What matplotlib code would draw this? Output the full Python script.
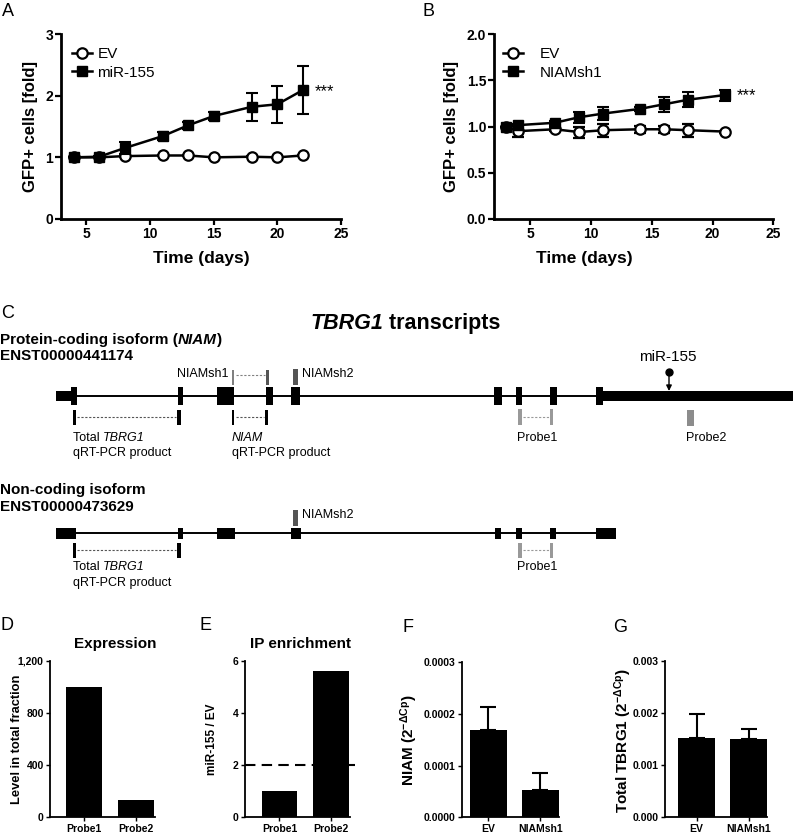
import matplotlib
matplotlib.use('Agg')
import matplotlib.pyplot as plt
from matplotlib import font_manager
from matplotlib.patches import Rectangle
from matplotlib.lines import Line2D

names = {f.name for f in font_manager.fontManager.ttflist}
BASE = 'Liberation Sans' if 'Liberation Sans' in names else 'DejaVu Sans'
plt.rcParams['font.family'] = [BASE, 'DejaVu Sans']
plt.rcParams['mathtext.fontset'] = 'custom'
plt.rcParams['mathtext.rm'] = BASE
plt.rcParams['mathtext.it'] = BASE + ':italic'
plt.rcParams['mathtext.bf'] = BASE + ':bold'

# ---------------- data ----------------
# Panel A
days_a = [4, 6, 8, 11, 13, 15, 18, 20, 22]
ev_a = [1.0, 1.0, 1.02, 1.03, 1.03, 1.0, 1.01, 1.0, 1.03]
ev_a_err = [0, 0, 0.01, 0.01, 0.01, 0.01, 0.01, 0.01, 0.01]
mir_a = [1.0, 1.01, 1.15, 1.345, 1.52, 1.67, 1.82, 1.86, 2.09]
mir_a_err = [0, 0.01, 0.10, 0.07, 0.06, 0.06, 0.23, 0.30, 0.39]
# Panel B
days_b = [3, 4, 7, 9, 11, 14, 16, 18, 21]
ev_b = [1.0, 0.95, 0.97, 0.94, 0.96, 0.97, 0.97, 0.96, 0.945]
ev_b_err = [0, 0.06, 0.02, 0.06, 0.07, 0.04, 0.04, 0.07, 0.01]
sh_b = [1.0, 1.015, 1.04, 1.10, 1.14, 1.19, 1.24, 1.29, 1.34]
sh_b_err = [0, 0.01, 0.02, 0.06, 0.07, 0.02, 0.08, 0.08, 0.06]
# Panel D/E
probes = ['Probe1', 'Probe2']
expression = [1000, 130]
ip_enrichment = [1.0, 5.6]
ip_threshold = 2
# Panel F/G
groups = ['EV', 'NIAMsh1']
niam = [0.000169, 0.0000528]
niam_err = [0.000044, 0.000032]
total_tbrg1 = [0.00152, 0.00150]
total_tbrg1_err = [0.00046, 0.00020]

# Panel C (diagram units along transcript)
coding_exons = [(70.7, 76.7), (177.7, 183.3), (216.7, 234.3), (266, 273.3), (291, 300),
                (494.3, 501.7), (515.7, 522.3), (550, 557.3), (595.7, 603.3)]
coding_utr5 = (56, 71)
coding_utr3 = (603, 793)
noncoding_exons = [(56, 76), (177.5, 183), (216.5, 235), (291, 301),
                   (494.5, 501), (516, 522), (550, 556), (596, 616)]
mir155_site = 669
probe2_site = (686.7, 694)

W, H = 793, 833
fig = plt.figure(figsize=(W / 100, H / 100), dpi=100)


def pax(l, r, t, b):
    return fig.add_axes([l / W, 1 - b / H, (r - l) / W, (b - t) / H])


def ftext(x, y, s, **kw):
    kw.setdefault('ha', 'left')
    kw.setdefault('va', 'center')
    return fig.text(x / W, 1 - y / H, s, **kw)


# overlay axes for diagram
axc = fig.add_axes([0, 0, 1, 1])
axc.set_xlim(0, W)
axc.set_ylim(H, 0)
axc.axis('off')


def rich(x, y, parts, size, weight='normal'):
    """parts: list of (text, italic?) drawn one after another on one line."""
    prev = None
    for s, it in parts:
        st = 'italic' if it else 'normal'
        if prev is None:
            prev = axc.text(x, y, s, ha='left', va='center', fontsize=size, fontweight=weight, fontstyle=st)
        else:
            prev = axc.annotate(s, xy=(1, 0.5), xycoords=prev, ha='left', va='center', fontsize=size,
                                fontweight=weight, fontstyle=st)
    return prev


def style(ax, lw=2.0, tl=4, ls=10):
    for s in ['top', 'right']:
        ax.spines[s].set_visible(False)
    for s in ['left', 'bottom']:
        ax.spines[s].set_linewidth(lw)
    ax.tick_params(direction='out', length=tl, width=lw * 0.8, labelsize=ls, pad=1.5)
    for lab in ax.get_xticklabels() + ax.get_yticklabels():
        lab.set_fontweight('bold')


# ---------------- Panel A ----------------
axA = pax(61, 341, 34, 219)
ekw = dict(color='k', lw=1.8, capsize=4, elinewidth=1.5, capthick=1.5, clip_on=False)
axA.errorbar(days_a, ev_a, yerr=ev_a_err, fmt='-o', mfc='white', mec='k', ms=7.5, mew=1.6, zorder=3, **ekw)
axA.errorbar(days_a, mir_a, yerr=mir_a_err, fmt='-s', mfc='k', mec='k', ms=6.5, zorder=4, **ekw)
axA.set_xlim(3, 25)
axA.set_ylim(0, 3)
axA.set_xticks([5, 10, 15, 20, 25])
axA.set_yticks([0, 1, 2, 3])
style(axA)
hA = [Line2D([], [], color='k', lw=1.8, marker='o', mfc='white', mec='k', ms=7.5, mew=1.6),
      Line2D([], [], color='k', lw=1.8, marker='s', mfc='k', ms=6.5)]
axA.legend(hA, ['EV', 'miR-155'], loc='upper left', bbox_to_anchor=(0.04, 0.93), frameon=False,
           handlelength=1.3, handletextpad=0.35, labelspacing=0.3, fontsize=11, borderaxespad=0, borderpad=0)
ftext(315, 92, '***', fontsize=12)

# ---------------- Panel B ----------------
axB = pax(494, 773.3, 34, 219)
axB.errorbar(days_b, ev_b, yerr=ev_b_err, fmt='-o', mfc='white', mec='k', ms=7.5, mew=1.6, zorder=3, **ekw)
axB.errorbar(days_b, sh_b, yerr=sh_b_err, fmt='-s', mfc='k', mec='k', ms=6.5, zorder=4, **ekw)
axB.set_xlim(2, 25)
axB.set_ylim(0, 2)
axB.set_xticks([5, 10, 15, 20, 25])
axB.set_yticks([0, 0.5, 1.0, 1.5, 2.0])
axB.set_yticklabels(['0.0', '0.5', '1.0', '1.5', '2.0'])
style(axB)
axB.legend(hA, ['EV', 'NIAMsh1'], loc='upper left', bbox_to_anchor=(0.032, 0.93), frameon=False,
           handlelength=1.3, handletextpad=1.1, labelspacing=0.3, fontsize=11, borderaxespad=0, borderpad=0)
ftext(737, 96, '***', fontsize=12)

for x in (30.5, 451):
    ftext(x, 126, 'GFP+ cells [fold]', rotation=90, ha='center', fontsize=12, fontweight='bold')
ftext(201.5, 258, 'Time (days)', ha='center', fontsize=12.5, fontweight='bold')
ftext(584, 258, 'Time (days)', ha='center', fontsize=12.5, fontweight='bold')

# ---------------- Panel letters ----------------
for lx, ly, L in [(2, 11, 'A'), (422, 11, 'B'), (1, 314, 'C'), (0, 625, 'D'), (199, 625, 'E'),
                  (402, 627, 'F'), (613, 627, 'G')]:
    ftext(lx, ly, L, fontsize=13)

# ---------------- Panel C ----------------
rich(310, 323, [('TBRG1', True), (' transcripts', False)], 15.5, 'bold')
rich(0, 340, [('Protein-coding isoform (', False), ('NIAM', True), (')', False)], 11, 'bold')
axc.text(0, 356, 'ENST00000441174', ha='left', va='center', fontsize=11, fontweight='bold')
axc.text(0, 490, 'Non-coding isoform', ha='left', va='center', fontsize=11, fontweight='bold')
axc.text(0, 507, 'ENST00000473629', ha='left', va='center', fontsize=11, fontweight='bold')


def draw_transcript(yc, exons, eh, utr5=None, utr3=None):
    x0 = exons[0][0]
    x1 = exons[-1][1]
    axc.plot([x0, x1], [yc, yc], color='k', lw=1.4, solid_capstyle='butt')
    for a, b in exons:
        axc.add_patch(Rectangle((a, yc - eh / 2), b - a, eh, color='k', lw=0))
    for u in (utr5, utr3):
        if u is not None:
            axc.add_patch(Rectangle((u[0], yc - 5), u[1] - u[0], 10, color='k', lw=0, clip_on=False))


def bar(x0, x1, y0, y1, c):
    axc.add_patch(Rectangle((x0, y0), x1 - x0, y1 - y0, color=c, lw=0))


def dots(x0, x1, y, c):
    axc.plot([x0, x1], [y, y], color=c, lw=0.8, linestyle=(0, (2, 1.5)))


y1 = 396
draw_transcript(y1, coding_exons, 18, coding_utr5, coding_utr3)
# shRNA marks
bar(231.7, 234.3, 370, 385, '#808080')
bar(265.7, 269, 370, 385, '#555555')
dots(235.5, 265, 375, '#808080')
bar(293.3, 298.3, 369, 385, '#555555')
axc.text(229, 374, 'NIAMsh1', ha='right', va='center', fontsize=9)
axc.text(302, 374, 'NIAMsh2', ha='left', va='center', fontsize=9)
# qRT-PCR products
bar(72.7, 75.7, 410, 425, 'k')
bar(177, 180.7, 410, 425, 'k')
dots(77, 176, 417, '#555555')
bar(231.7, 234.3, 410, 425, 'k')
bar(265, 268, 410, 425, 'k')
dots(235.5, 264, 417, '#555555')
bar(518.3, 521.7, 409, 425, '#999999')
bar(550, 553.3, 409, 425, '#999999')
dots(523, 549, 417, '#999999')
bar(probe2_site[0], probe2_site[1], 410, 426, '#8c8c8c')
# miR-155 site
axc.annotate('', xy=(mir155_site, 391), xytext=(mir155_site, 373),
             arrowprops=dict(arrowstyle='-|>', color='k', lw=1.0, mutation_scale=8, shrinkA=0, shrinkB=0))
axc.plot([mir155_site], [372], 'o', color='k', ms=5)
axc.text(668, 357, 'miR-155', ha='center', va='center', fontsize=11)

rich(72.7, 438, [('Total ', False), ('TBRG1', True)], 9)
axc.text(72.7, 453, 'qRT-PCR product', ha='left', va='center', fontsize=9)
rich(231.7, 438, [('NIAM', True)], 9)
axc.text(231.7, 453, 'qRT-PCR product', ha='left', va='center', fontsize=9)
axc.text(517.5, 438, 'Probe1', ha='left', va='center', fontsize=9)
axc.text(686, 438, 'Probe2', ha='left', va='center', fontsize=9)

y2 = 533
draw_transcript(y2, noncoding_exons, 11)
bar(293, 298, 510, 526, '#555555')
axc.text(302, 515, 'NIAMsh2', ha='left', va='center', fontsize=9)
bar(72.7, 75.7, 543, 558, 'k')
bar(177, 180.7, 543, 558, 'k')
dots(77, 176, 550, '#555555')
bar(518.3, 521.7, 543, 558, '#999999')
bar(550, 553.3, 543, 558, '#999999')
dots(523, 549, 550, '#999999')
rich(72.7, 567, [('Total ', False), ('TBRG1', True)], 9)
axc.text(72.7, 583, 'qRT-PCR product', ha='left', va='center', fontsize=9)
axc.text(517.5, 567, 'Probe1', ha='left', va='center', fontsize=9)

# ---------------- Panel D ----------------
axD = pax(50, 155, 661, 817.3)
axD.bar([0, 1], expression, width=0.69, color='k')
axD.set_xlim(-0.65, 1.37)
axD.set_ylim(0, 1200)
axD.set_yticks([0, 400, 800, 1200])
axD.set_yticklabels(['0', '400', '800', '1,200'])
axD.set_xticks([0, 1])
axD.set_xticklabels(probes)
style(axD, lw=1.3, tl=3, ls=7.5)
ftext(115.5, 644, 'Expression', ha='center', fontsize=11, fontweight='bold')
ftext(17.5, 739, 'Level in total fraction', rotation=90, ha='center', fontsize=9.3, fontweight='bold')

# ---------------- Panel E ----------------
axE = pax(245, 350, 661, 817.3)
axE.bar([0, 1], ip_enrichment, width=0.69, color='k')
axE.set_xlim(-0.67, 1.37)
axE.set_ylim(0, 6)
axE.set_yticks([0, 2, 4, 6])
axE.set_xticks([0, 1])
axE.set_xticklabels(probes)
axE.plot([-0.67, 1.47], [ip_threshold, ip_threshold], color='k', lw=1.5, linestyle=(0, (5, 3)), clip_on=False)
style(axE, lw=1.3, tl=3, ls=7.5)
ftext(300, 644, 'IP enrichment', ha='center', fontsize=11, fontweight='bold')
ftext(211.7, 739, 'miR-155 / EV', rotation=90, ha='center', fontsize=8.5, fontweight='bold')

# ---------------- Panel F ----------------
bkw = dict(width=0.71, color='k', capsize=6, error_kw=dict(elinewidth=1.5, capthick=1.5, ecolor='k'))
axF = pax(461.7, 559.3, 662.3, 817.3)
axF.bar([0, 1], niam, yerr=[[0, 0], niam_err], **bkw)
axF.set_xlim(-0.51, 1.37)
axF.set_ylim(0, 0.0003)
axF.set_yticks([0, 0.0001, 0.0002, 0.0003])
axF.set_yticklabels(['0.0000', '0.0001', '0.0002', '0.0003'])
axF.set_xticks([0, 1])
axF.set_xticklabels(groups)
style(axF, lw=1.3, tl=3, ls=7.5)
ftext(409, 740, r'NIAM (2$^{\mathregular{-\Delta Cp}}$)', rotation=90, ha='center', fontsize=11,
      fontweight='bold')

# ---------------- Panel G ----------------
axG = pax(665, 766.7, 661, 817.3)
axG.bar([0, 1], total_tbrg1, yerr=[[0, 0], total_tbrg1_err], **bkw)
axG.set_xlim(-0.61, 1.35)
axG.set_ylim(0, 0.003)
axG.set_yticks([0, 0.001, 0.002, 0.003])
axG.set_yticklabels(['0.000', '0.001', '0.002', '0.003'])
axG.set_xticks([0, 1])
axG.set_xticklabels(groups)
style(axG, lw=1.3, tl=3, ls=7.5)
ftext(623.5, 740, r'Total TBRG1 (2$^{\mathregular{-\Delta Cp}}$)', rotation=90, ha='center', fontsize=11,
      fontweight='bold')

fig.savefig('out.png', dpi=100)
